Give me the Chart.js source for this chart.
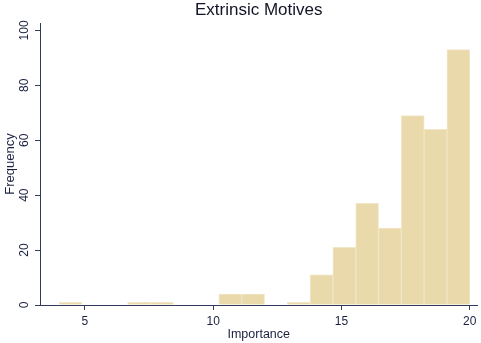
<!DOCTYPE html>
<html>
<head>
<meta charset="utf-8">
<script src="https://cdn.jsdelivr.net/npm/chart.js@4/dist/chart.umd.min.js"></script>
<style>
html,body{margin:0;padding:0;background:#fff;}
canvas{display:block;}
</style>
</head>
<body>
<canvas id="c" width="481" height="343"></canvas>
<script>
// Histogram: 18 bins from 4 to 20
const binStart = 4;
const binEnd = 20;
const binCount = 18;
const frequencies = [1, 0, 0, 1, 1, 0, 0, 4, 4, 0, 1, 11, 21, 37, 28, 69, 64, 93];
const xTicks = [5, 10, 15, 20];
const yTicks = [0, 20, 40, 60, 80, 100];

const binWidth = (binEnd - binStart) / binCount;
const points = frequencies.map((f, i) => ({x: binStart + binWidth * (i + 0.5), y: f}));

const axisColor = '#323b5c';
const textColor = '#1a2140';
const fontFamily = '"Liberation Sans", Arial, sans-serif';

new Chart(document.getElementById('c'), {
  type: 'bar',
  data: {
    datasets: [{
      data: points,
      backgroundColor: '#e9d9ab',
      borderColor: '#f1e6c6',
      borderWidth: 1,
      barPercentage: 1,
      categoryPercentage: 1
    }]
  },
  options: {
    responsive: false,
    animation: false,
    devicePixelRatio: 1,
    layout: {padding: {left: 0, right: 3, top: 0, bottom: 0}},
    plugins: {
      legend: {display: false},
      tooltip: {enabled: false},
      title: {
        display: true,
        text: 'Extrinsic Motives',
        fullSize: false,
        color: '#111426',
        font: {family: fontFamily, size: 17, weight: 'normal', lineHeight: 1.2},
        padding: {top: 0, bottom: 2.6}
      }
    },
    scales: {
      x: {
        type: 'linear',
        offset: false,
        min: 3.25,
        max: 20.3,
        afterBuildTicks: s => { s.ticks = xTicks.map(v => ({value: v})); },
        afterFit: s => { s.height = 38; },
        border: {display: true, color: axisColor, width: 1},
        grid: {display: true, offset: false, drawOnChartArea: false, drawTicks: true, tickLength: 5, color: axisColor},
        ticks: {color: textColor, font: {family: fontFamily, size: 12}, padding: 4.5, maxRotation: 0, autoSkip: false},
        title: {display: true, text: 'Importance', color: textColor,
          font: {family: fontFamily, size: 12.5}, padding: {top: 0, bottom: 0.8}}
      },
      y: {
        type: 'linear',
        min: 0,
        max: 102.7,
        afterBuildTicks: s => { s.ticks = yTicks.map(v => ({value: v})); },
        afterFit: s => { s.width = 40; },
        border: {display: true, color: axisColor, width: 1},
        grid: {display: true, drawOnChartArea: false, drawTicks: true, tickLength: 5, color: axisColor},
        ticks: {color: textColor, font: {family: fontFamily, size: 12}, padding: 0, minRotation: 90, maxRotation: 90, crossAlign: 'center', autoSkip: false},
        title: {display: true, text: 'Frequency', color: textColor,
          font: {family: fontFamily, size: 13}, padding: {top: 3, bottom: 0}}
      }
    }
  }
});
</script>
</body>
</html>
